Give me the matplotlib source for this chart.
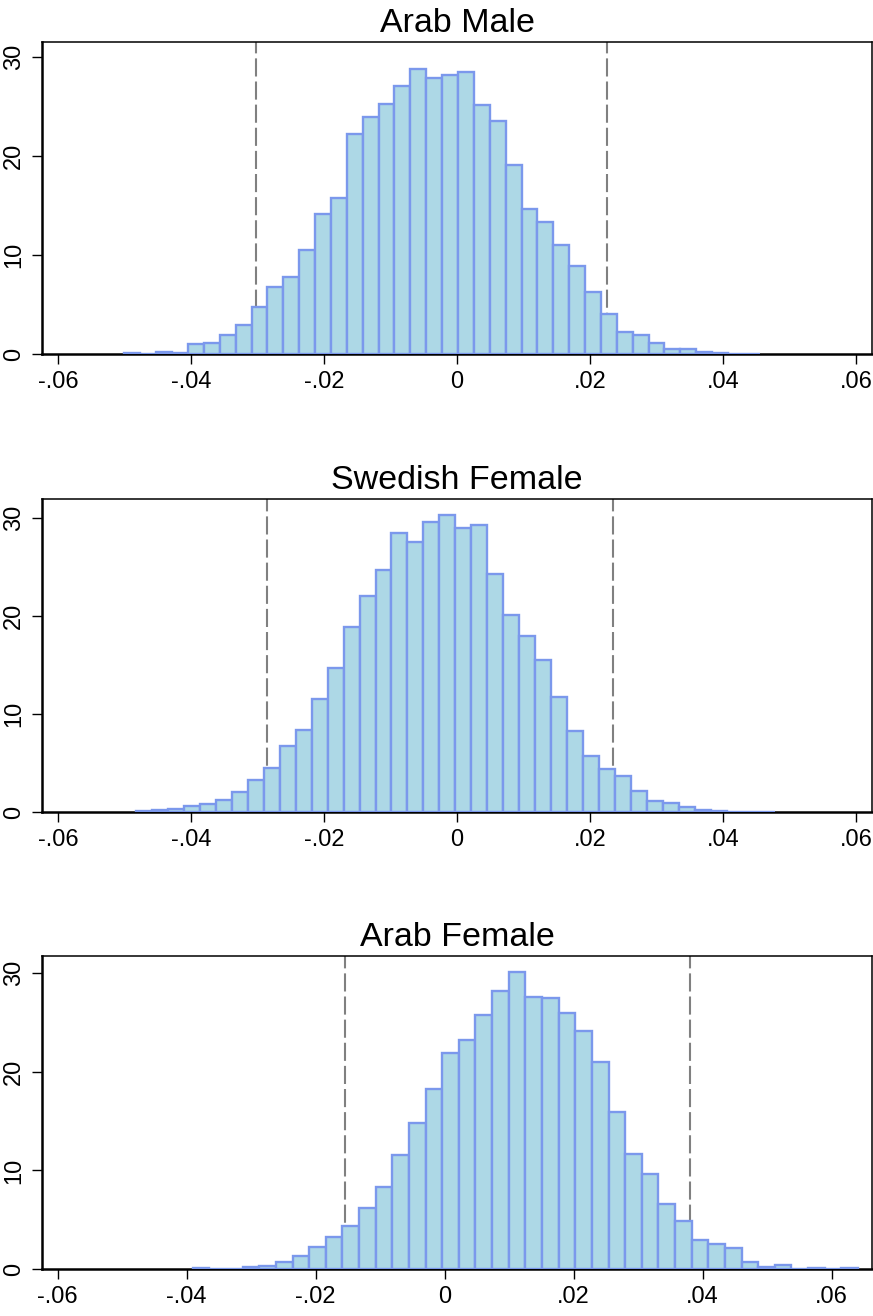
import numpy as np
import matplotlib
matplotlib.use("Agg")
import matplotlib.pyplot as plt

plt.rcParams['font.family'] = ['Liberation Sans', 'DejaVu Sans']

# histogram data (density), 40 bins per panel
titles = ["Arab Male", "Swedish Female", "Arab Female"]
bin_start = [-0.0500, -0.04825, -0.03905]
bin_width = [0.002388, 0.0024, 0.002578]

heights_arab_male = [0.08, 0.05, 0.25, 0.15, 1.0, 1.15, 1.9, 2.9, 4.8, 6.8,
                     7.8, 10.5, 14.2, 15.8, 22.2, 24.0, 25.3, 27.1, 28.8, 27.9,
                     28.25, 28.5, 25.2, 23.6, 19.1, 14.65, 13.3, 11.0, 8.85, 6.25,
                     4.05, 2.2, 1.9, 1.1, 0.5, 0.55, 0.17, 0.07, 0.03, 0.05]
heights_swe_female = [0.1, 0.17, 0.27, 0.58, 0.85, 1.26, 2.05, 3.24, 4.53, 6.7,
                      8.4, 11.5, 14.66, 18.9, 22.06, 24.7, 28.4, 27.5, 29.6, 30.3,
                      28.9, 29.3, 24.3, 20.1, 17.9, 15.5, 11.76, 8.3, 5.7, 4.43,
                      3.7, 2.1, 1.09, 0.95, 0.48, 0.24, 0.1, 0.05, 0.05, 0.05]
heights_arab_female = [0.07, 0.05, 0.03, 0.2, 0.34, 0.68, 1.35, 2.2, 3.28, 4.36,
                       6.15, 8.35, 11.57, 14.85, 18.26, 21.9, 23.2, 25.77, 28.2, 30.1,
                       27.6, 27.5, 26.0, 24.1, 21.0, 15.9, 11.67, 9.64, 6.56, 4.87,
                       2.94, 2.5, 2.1, 0.68, 0.24, 0.37, 0.05, 0.07, 0.05, 0.07]
heights = [heights_arab_male, heights_swe_female, heights_arab_female]

# 95% interval lines
ci_lines = [(-0.0302, 0.02256), (-0.02852, 0.02341), (-0.01541, 0.03808)]

xlims = [(-0.0624, 0.0624), (-0.0624, 0.0624), (-0.06243, 0.06625)]
ylims = [31.55, 31.9, 31.75]

xtick_vals = [-0.06, -0.04, -0.02, 0, 0.02, 0.04, 0.06]
xtick_labels = ["-.06", "-.04", "-.02", "0", ".02", ".04", ".06"]
ytick_vals = [0, 10, 20, 30]
ytick_labels = ["0", "10", "20", "30"]

W, H = 873, 1316
fig = plt.figure(figsize=(W / 100, H / 100), dpi=100)

# axes boxes in pixels: left, top, right, bottom
boxes = [(42, 42, 872, 354), (42, 499, 872, 812), (42, 956, 872, 1269)]

for k in range(3):
    l, t, r, b = boxes[k]
    ax = fig.add_axes([l / W, 1 - b / H, (r - l) / W, (b - t) / H])
    n = len(heights[k])
    lefts = bin_start[k] + bin_width[k] * np.arange(n)
    ax.bar(lefts, heights[k], width=bin_width[k], align='edge',
           color='#add8e6', edgecolor='#7b98ec', linewidth=1.7, zorder=3)
    for xv in ci_lines[k]:
        ax.axvline(xv, color='#808080', linewidth=1.5,
                   dashes=(8.7, 2.4), zorder=2)
    ax.set_xlim(*xlims[k])
    ax.set_ylim(0, ylims[k])
    ax.set_xticks(xtick_vals)
    ax.set_xticklabels(xtick_labels)
    ax.set_yticks(ytick_vals)
    ax.set_yticklabels(ytick_labels, rotation=90, va='center')
    ax.tick_params(axis='both', direction='out', length=7, width=1,
                   labelsize=17, pad=5)
    ax.spines['left'].set_linewidth(1.8)
    ax.spines['bottom'].set_linewidth(1.8)
    ax.spines['top'].set_linewidth(1.1)
    ax.spines['right'].set_linewidth(1.1)
    ax.set_title(titles[k], fontsize=24.5, pad=7)

fig.savefig("out.png", dpi=100)
